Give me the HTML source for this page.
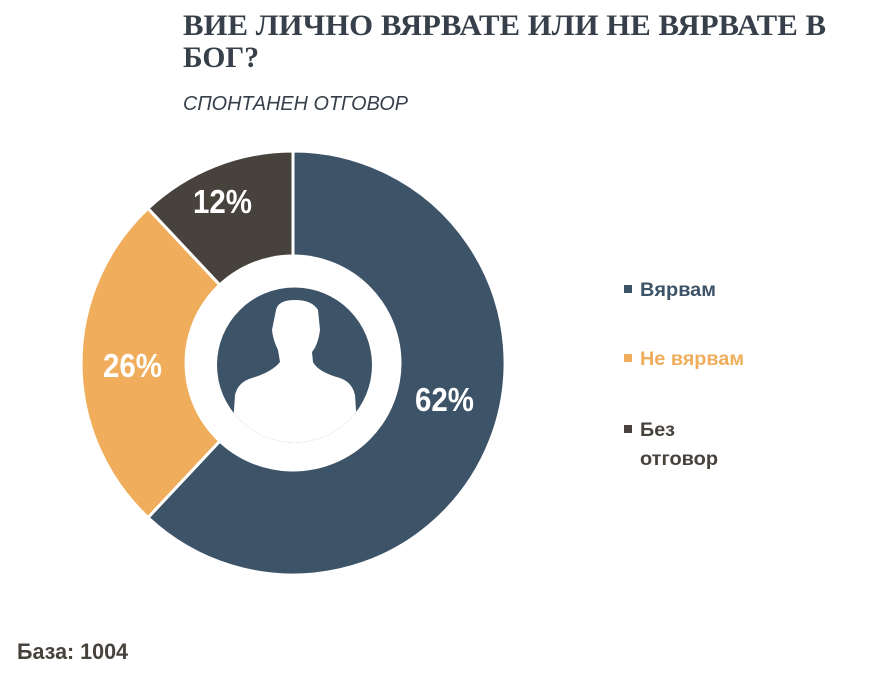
<!DOCTYPE html>
<html><head><meta charset="utf-8"><style>
html,body{margin:0;padding:0;background:#fff;}
svg{display:block;}
</style></head><body>
<svg width="869" height="687" viewBox="0 0 869 687" xmlns="http://www.w3.org/2000/svg">
<text x="183" y="35" font-family="Liberation Serif, serif" font-weight="bold" font-size="30" fill="#37404a" textLength="643" lengthAdjust="spacingAndGlyphs">ВИЕ ЛИЧНО ВЯРВАТЕ ИЛИ НЕ ВЯРВАТЕ В</text>
<text x="183" y="67" font-family="Liberation Serif, serif" font-weight="bold" font-size="30" fill="#37404a" textLength="76" lengthAdjust="spacingAndGlyphs">БОГ?</text>
<text x="183" y="110" font-family="Liberation Sans, sans-serif" font-style="italic" font-size="20" fill="#37404a" textLength="225" lengthAdjust="spacingAndGlyphs">СПОНТАНЕН ОТГОВОР</text>

<g stroke="#fff" stroke-width="3">
<path d="M293,363 L293,151 A212,212 0 1 1 148,517.6 Z" fill="#3d5368"/>
<path d="M293,363 L148,517.6 A212,212 0 0 1 148,208.4 Z" fill="#f0ad5b"/>
<path d="M293,363 L148,208.4 A212,212 0 0 1 293,151 Z" fill="#47423c"/>
</g>
<circle cx="293" cy="363" r="108.5" fill="#fff"/>
<clipPath id="c"><circle cx="294.5" cy="365" r="77.5"/></clipPath>
<circle cx="294.5" cy="365" r="77.5" fill="#3d5368"/>
<g clip-path="url(#c)" fill="#fff">
<path d="M276,310 Q278,300 295,300 Q312,300 318,310 L320,330 Q318,345 312,352 L313,362 Q318,372 340,378 Q352,382 355,395 L360,470 L230,470 L235,395 Q238,382 252,378 Q272,372 280,362 L278,350 Q273,340 272,330 Z"/>
</g>

<g font-family="Liberation Sans, sans-serif" font-weight="bold" font-size="33" fill="#fff">
<text x="193" y="213" textLength="59" lengthAdjust="spacingAndGlyphs">12%</text>
<text x="103" y="377" textLength="59" lengthAdjust="spacingAndGlyphs">26%</text>
<text x="415" y="411" textLength="59" lengthAdjust="spacingAndGlyphs">62%</text>
</g>

<g font-family="Liberation Sans, sans-serif" font-weight="bold" font-size="19">
<rect x="624" y="285" width="8" height="8" fill="#3d5368"/>
<text x="640" y="296" fill="#3d5368" textLength="76" lengthAdjust="spacingAndGlyphs">Вярвам</text>
<rect x="624" y="354" width="8" height="8" fill="#f0ad5b"/>
<text x="640" y="365" fill="#f0ad5b" textLength="104" lengthAdjust="spacingAndGlyphs">Не вярвам</text>
<rect x="624" y="425" width="8" height="8" fill="#47423c"/>
<text x="640" y="436" fill="#47423c" textLength="35" lengthAdjust="spacingAndGlyphs">Без</text>
<text x="640" y="465" fill="#47423c" textLength="78" lengthAdjust="spacingAndGlyphs">отговор</text>
</g>

<text x="17" y="659" font-family="Liberation Sans, sans-serif" font-weight="bold" font-size="22" fill="#47423c" textLength="111" lengthAdjust="spacingAndGlyphs">База: 1004</text>
</svg>
</body></html>
